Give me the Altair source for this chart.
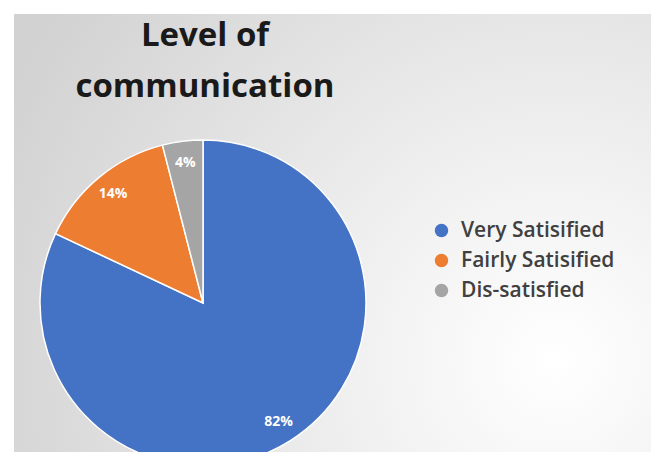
import altair as alt
import pandas as pd

categories = ["Very Satisified", "Fairly Satisified", "Dis-satisfied"]
values = [82, 14, 4]
labels = ["82%", "14%", "4%"]
colors = ["#4472C4", "#ED7D31", "#A5A5A5"]
title_lines = ["Level of", "communication"]

df = pd.DataFrame({"cat": categories, "val": values, "lab": labels, "order": [0, 1, 2]})

W, H = 643, 444
CX, CY, R = 195, 295, 163

bg = alt.Chart(pd.DataFrame({"a": [0]})).mark_rect(
    color=alt.RadialGradient(
        gradient="radial", x1=0.85, y1=0.7, x2=0.85, y2=0.7, r1=0, r2=0.95,
        stops=[alt.GradientStop(color="#ffffff", offset=0),
               alt.GradientStop(color="#f2f2f2", offset=0.3),
               alt.GradientStop(color="#d2d2d2", offset=1)]
    )
).encode(x=alt.value(6), x2=alt.value(W), y=alt.value(6), y2=alt.value(H))

base = alt.Chart(df).encode(
    theta=alt.Theta("val:Q", stack=True),
    order=alt.Order("order:Q"),
)

pie = base.mark_arc(radius=R, stroke="white", strokeWidth=1.5).encode(
    x=alt.value(CX), y=alt.value(CY),
    color=alt.Color("cat:N", scale=alt.Scale(domain=categories, range=colors),
                    sort=categories,
                    legend=alt.Legend(title=None, orient="none", legendX=423, legendY=212,
                                      symbolType="circle", symbolSize=180, padding=0,
                                      labelFont="Open Sans", labelFontSize=21,
                                      labelFontWeight=600, labelLimit=300,
                                      labelColor="#404040", rowPadding=8,
                                      symbolStrokeWidth=0, labelOffset=9)),
)

txt = base.mark_text(radius=141, font="Open Sans", fontWeight="bold", fontSize=14,
                     color="white").encode(
    x=alt.value(CX), y=alt.value(CY), text="lab:N"
)

tdf = pd.DataFrame({"t": title_lines, "i": [0, 1]})
title = alt.Chart(tdf).mark_text(font="Open Sans", fontWeight="bold", fontSize=33,
                                 color="#1a1a1a", align="center", baseline="middle").encode(
    x=alt.value(197),
    y=alt.Y("i:Q", scale=alt.Scale(domain=[0, 1], range=[28, 79]), axis=None),
    text="t:N",
)

chart = alt.layer(bg, pie, txt, title).properties(
    width=W, height=H, autosize="none", padding=0
).configure_view(stroke=None)

chart.save("out.html", embed_options={"renderer": "svg", "actions": False})
